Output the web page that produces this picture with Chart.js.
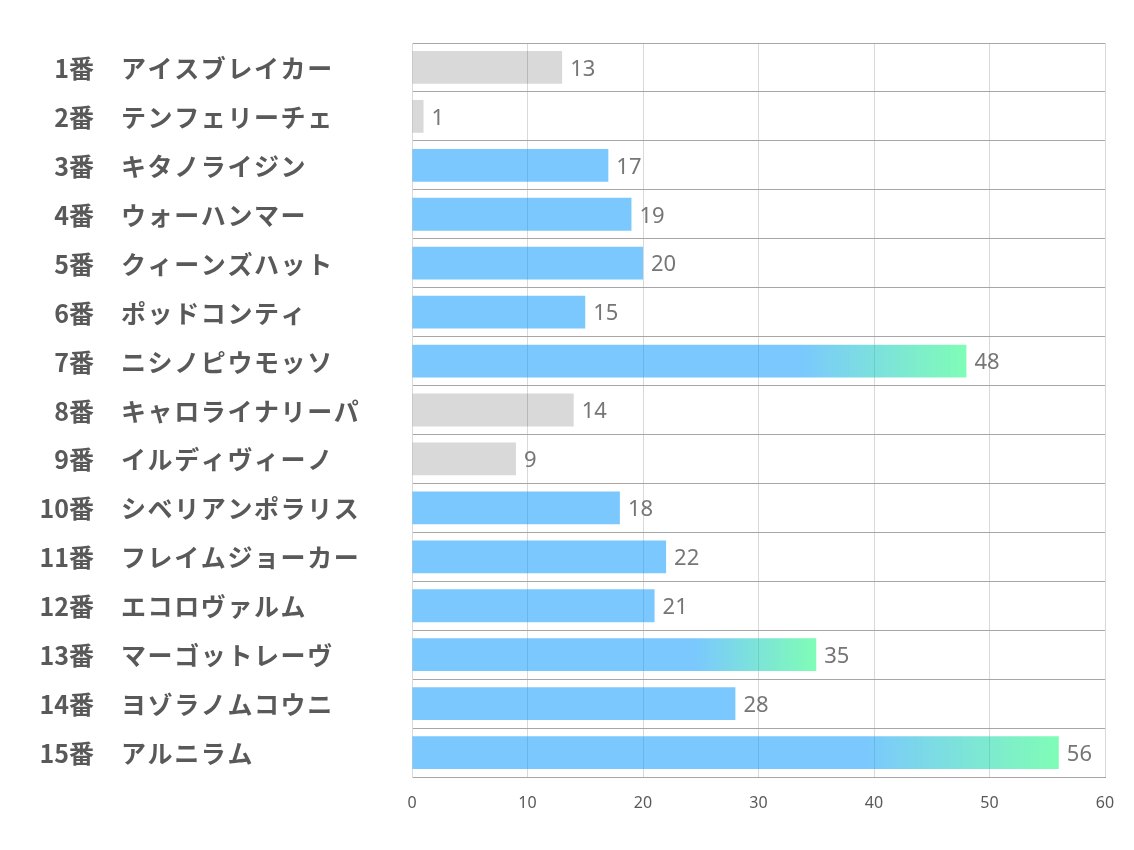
<!DOCTYPE html>
<html>
<head>
<meta charset="utf-8">
<script src="https://cdn.jsdelivr.net/npm/chart.js@4"></script>
<style>
  body { margin: 0; background: #fff; }
  #wrap { width: 1134px; height: 850px; }
</style>
</head>
<body>
<div id="wrap"><canvas id="chart"></canvas></div>
<script>
// 馬番と馬名
const numbers = ['1番', '2番', '3番', '4番', '5番', '6番', '7番', '8番', '9番', '10番', '11番', '12番', '13番', '14番', '15番'];
const names = ['アイスブレイカー', 'テンフェリーチェ', 'キタノライジン', 'ウォーハンマー', 'クィーンズハット', 'ポッドコンティ', 'ニシノピウモッソ', 'キャロライナリーパ', 'イルディヴィーノ', 'シベリアンポラリス', 'フレイムジョーカー', 'エコロヴァルム', 'マーゴットレーヴ', 'ヨゾラノムコウニ', 'アルニラム'];
const scores = [13, 1, 17, 19, 20, 15, 48, 14, 9, 18, 22, 21, 35, 28, 56];
// 'g' = グレー, 'b' = 青
const kinds = ['g', 'g', 'b', 'b', 'b', 'b', 'b', 'g', 'g', 'b', 'b', 'b', 'b', 'b', 'b'];
const xTicks = [0, 10, 20, 30, 40, 50, 60];

const BLUE = 'rgba(0,150,253,0.52)';
const GREEN = 'rgba(0,250,110,0.5)';
const GRAY = 'rgba(0,0,0,0.15)';

// 棒の色(30以上は右端に向かってグラデーション)
function barColor(ctx) {
    const i = ctx.dataIndex;
    if (kinds[i] === 'g') return GRAY;
    const v = scores[i];
    const chart = ctx.chart;
    if (v < 30 || !chart.chartArea) return BLUE;
    const xs = chart.scales.x;
    const x0 = xs.getPixelForValue(0);
    const x1 = xs.getPixelForValue(v);
    const g = chart.ctx.createLinearGradient(x0, 0, x1, 0);
    g.addColorStop(0, BLUE);
    g.addColorStop(0.7, BLUE);
    g.addColorStop(1, GREEN);
    return g;
}

// 値ラベル
const valueLabels = {
    id: 'valueLabels',
    afterDatasetsDraw(chart) {
        const { ctx } = chart;
        const meta = chart.getDatasetMeta(0);
        ctx.save();
        ctx.font = '22px "Noto Sans"';
        ctx.fillStyle = '#767676';
        ctx.textBaseline = 'middle';
        ctx.textAlign = 'left';
        meta.data.forEach((bar, i) => {
            ctx.fillText(String(scores[i]), bar.x + 8, bar.y + 2);
        });
        ctx.restore();
    }
};

// 左側の馬番・馬名
const rowLabels = {
    id: 'rowLabels',
    afterDraw(chart) {
        const { ctx } = chart;
        const ys = chart.scales.y;
        ctx.save();
        ctx.font = 'bold 25px "Noto Sans CJK JP"';
        ctx.fillStyle = '#595959';
        ctx.textBaseline = 'middle';
        numbers.forEach((n, i) => {
            const y = ys.getPixelForValue(i) + 1;
            ctx.letterSpacing = '0px';
            ctx.textAlign = 'right';
            ctx.fillText(n, 94, y);
            ctx.letterSpacing = '1.6px';
            ctx.textAlign = 'left';
            ctx.fillText(names[i], 121, y);
        });
        ctx.restore();
    }
};

new Chart(document.getElementById('chart'), {
    type: 'bar',
    data: {
        labels: names,
        datasets: [{
            data: scores,
            backgroundColor: barColor,
            borderWidth: 0,
            categoryPercentage: 1,
            barPercentage: 0.67
        }]
    },
    options: {
        indexAxis: 'y',
        responsive: true,
        maintainAspectRatio: false,
        animation: false,
        layout: { padding: { top: 43, right: 29, left: 0, bottom: 0 } },
        plugins: {
            legend: { display: false },
            tooltip: { enabled: false }
        },
        scales: {
            x: {
                min: 0,
                max: 60,
                afterBuildTicks: s => { s.ticks = xTicks.map(v => ({ value: v })); },
                afterFit: s => { s.height = 73; },
                grid: { color: '#d9d9d9', drawTicks: false },
                border: { color: '#a6a6a6' },
                ticks: {
                    padding: 17,
                    color: '#595959',
                    font: { family: 'Noto Sans', size: 16 }
                }
            },
            y: {
                afterFit: s => { s.width = 412; },
                grid: { color: '#a6a6a6', offset: true, drawTicks: false },
                border: { color: '#d9d9d9' },
                ticks: { display: false }
            }
        }
    },
    plugins: [valueLabels, rowLabels]
});
</script>
</body>
</html>
